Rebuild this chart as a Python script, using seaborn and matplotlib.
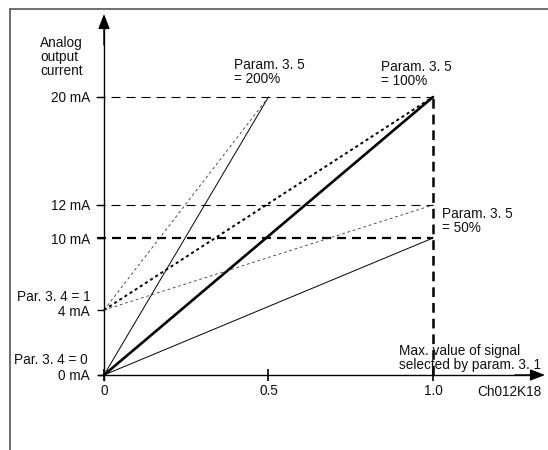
import matplotlib
matplotlib.use('Agg')
import matplotlib.pyplot as plt
import numpy as np
import seaborn as sns


# Data
signal_ticks = [0, 0.5, 1.0]
signal_labels = ['0', '0.5', '1.0']
current_levels = [0, 4, 10, 12, 20]
current_labels = ['0 mA', '4 mA', '10 mA', '12 mA', '20 mA']

# lines: (x values, y values in mA)
zero_100_x = [0, 1.0]
zero_100_y = [0, 20]
zero_200_x = [0, 0.5]
zero_200_y = [0, 20]
zero_50_x = [0, 1.0]
zero_50_y = [0, 10]
four_100_x = [0, 1.0]
four_100_y = [4, 20]
four_200_x = [0, 0.5]
four_200_y = [4, 20]
four_50_x = [0, 1.0]
four_50_y = [4, 12]

W, H = 548, 450

# the drawing is schematic: mA levels are not evenly spaced
knot_ma = [-20, 0, 4, 10, 12, 20, 60]
knot_px = [-325, 0, 65, 137, 170, 278, 818]


def fwd(v):
    return np.interp(v, knot_ma, knot_px)


def inv(v):
    return np.interp(v, knot_px, knot_ma)


sns.set_theme(style='white')
plt.rcParams['font.family'] = ['Liberation Sans', 'DejaVu Sans']
plt.rcParams['lines.scale_dashes'] = False
FS = 9.8

fig = plt.figure(figsize=(W / 100, H / 100), dpi=100)
ax = fig.add_axes([0, 0, 1, 1])
ax.set_facecolor('white')
ax.set_yscale('function', functions=(fwd, inv))
ax.set_xlim(-104 / 329, (W - 104) / 329)
ax.set_ylim(inv(-75), inv(375))

k = 'black'
thin_dash = (0, (6.5, 4.3))
dots = (0, (2, 2))

# guide lines
sns.lineplot(x=[-0.025, 1.0], y=[20, 20], ax=ax, color=k, lw=0.8,
             linestyle=thin_dash)
sns.lineplot(x=[-0.025, 1.0], y=[12, 12], ax=ax, color=k, lw=0.8,
             linestyle=thin_dash)
sns.lineplot(x=[-0.02, 1.0], y=[10, 10], ax=ax, color=k, lw=1.6,
             linestyle=thin_dash)
ax.plot([1.0, 1.0], [0, 20], color=k, lw=1.8, linestyle=(0, (7, 4.3)))

# output curves
sns.lineplot(x=zero_100_x, y=zero_100_y, ax=ax, color=k, lw=1.9)
sns.lineplot(x=zero_200_x, y=zero_200_y, ax=ax, color=k, lw=0.7)
sns.lineplot(x=zero_50_x, y=zero_50_y, ax=ax, color=k, lw=0.7)
sns.lineplot(x=four_100_x, y=four_100_y, ax=ax, color=k, lw=1.4,
             linestyle=(0, (2.2, 2.2)))
sns.lineplot(x=four_200_x, y=four_200_y, ax=ax, color='#333333', lw=0.6,
             linestyle=dots)
sns.lineplot(x=four_50_x, y=four_50_y, ax=ax, color='#333333', lw=0.6,
             linestyle=dots)

# axes with arrows
for s in ['top', 'right']:
    ax.spines[s].set_visible(False)
ax.spines['left'].set_position(('data', 0))
ax.spines['bottom'].set_position(('data', 0))
ax.spines['left'].set_bounds(inv(-5), inv(350))
ax.spines['bottom'].set_bounds(-0.015, (535 - 104) / 329)
for s in ['left', 'bottom']:
    ax.spines[s].set_color(k)
    ax.spines[s].set_linewidth(1.0)

arrow = dict(arrowstyle='-|>,head_length=0.9,head_width=0.35',
             mutation_scale=10, color=k, lw=1.0, shrinkA=0, shrinkB=0)
ax.annotate('', xy=(0, inv(361)), xytext=(0, inv(330)), arrowprops=arrow)
ax.annotate('', xy=((545 - 104) / 329, 0), xytext=((515 - 104) / 329, 0),
            arrowprops=arrow)

ax.set_xticks(signal_ticks)
ax.set_xticklabels(signal_labels, fontsize=FS)
ax.set_yticks(current_levels)
ax.set_yticklabels(current_labels, fontsize=FS)
ax.minorticks_off()
ax.tick_params(axis='x', direction='inout', length=8, width=1.2, pad=2.5,
               color=k, bottom=True, labelcolor='#111111')
ax.tick_params(axis='y', direction='out', length=5, width=1.0, pad=5,
               color=k, left=True, labelcolor='#111111')
ax.grid(False)


def px(x, y):
    return x / W, 1 - y / H


# frame (only top and left sides are visible)
ax.plot([10 / W, 1], [1 - 9 / H, 1 - 9 / H], transform=ax.transAxes,
        color='#555555', lw=1.2, clip_on=False)
ax.plot([10 / W, 10 / W], [0, 1 - 9 / H], transform=ax.transAxes,
        color='#555555', lw=1.2, clip_on=False)

txt = dict(fontsize=FS, color='#111111', linespacing=1.02)
fig.text(*px(40, 36), 'Analog\noutput\ncurrent', ha='left', va='top', **txt)
fig.text(*px(234, 58), 'Param. 3. 5\n= 200%', ha='left', va='top', **txt)
fig.text(*px(381, 60), 'Param. 3. 5\n= 100%', ha='left', va='top', **txt)
fig.text(*px(442, 207), 'Param. 3. 5\n= 50%', ha='left', va='top', **txt)
fig.text(*px(91, 297), 'Par. 3. 4 = 1', ha='right', va='center', **txt)
fig.text(*px(88, 360), 'Par. 3. 4 = 0', ha='right', va='center', **txt)
fig.text(*px(399, 344), 'Max. value of signal\nselected by param. 3. 1',
         ha='left', va='top', **txt)
fig.text(*px(541, 392), 'Ch012K18', ha='right', va='center', **txt)

fig.savefig('out.png', dpi=100)
